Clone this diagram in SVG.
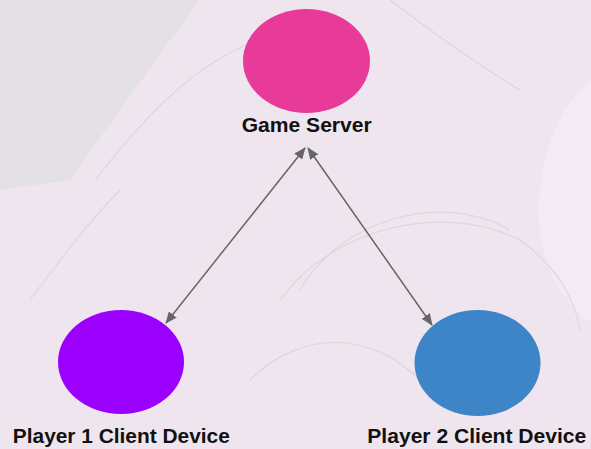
<svg xmlns="http://www.w3.org/2000/svg" width="591" height="449" viewBox="0 0 591 449">
  <defs>
    <style>
      .lbl { font-family: "Liberation Sans", Arial, sans-serif; font-weight: bold; font-size: 20px; fill: #111; text-anchor: middle; }
      .conn { stroke: #666; stroke-width: 1.5; fill: none; marker-start: url(#ah); marker-end: url(#ah); }
      .sk { fill: none; stroke: #dcd6de; stroke-width: 1.2; }
    </style>
    <marker id="ah" markerUnits="userSpaceOnUse" markerWidth="12" markerHeight="10" refX="11" refY="5" orient="auto-start-reverse" viewBox="0 0 12 10">
      <path d="M0,0 L12,5 L0,10 Z" fill="#666"/>
    </marker>
  </defs>
  <g id="background">
    <rect x="0" y="0" width="591" height="449" fill="#efe5ef"/>
    <path d="M0,0 L200,0 C170,40 120,110 70,180 L0,190 Z" fill="#e4e1e6"/>
    <path d="M591,80 C540,120 520,230 560,290 C575,310 585,320 591,322 Z" fill="#f3eaf5"/>
    <path class="sk" d="M95,180 C150,110 200,60 260,40"/>
    <path class="sk" d="M30,300 C60,260 90,220 120,190"/>
    <path class="sk" d="M280,300 C330,230 440,200 520,240 C560,270 575,300 580,330"/>
    <path class="sk" d="M300,290 C340,220 440,190 510,230"/>
    <path class="sk" d="M390,0 C430,30 470,60 520,90"/>
    <path class="sk" d="M250,380 C300,330 370,330 420,380"/>
  </g>
  <g id="connectors">
    <line class="conn" x1="166" y1="323" x2="305" y2="148"/>
    <line class="conn" x1="308" y1="148" x2="432" y2="325"/>
  </g>
  <g id="game-server">
    <ellipse cx="306.5" cy="61" rx="63.5" ry="52" fill="#e83a98"/>
    <text class="lbl" x="306.7" y="132" textLength="130" lengthAdjust="spacingAndGlyphs">Game Server</text>
  </g>
  <g id="player1">
    <ellipse cx="121" cy="362" rx="63" ry="52" fill="#9b00ff"/>
    <text class="lbl" x="121.3" y="443" textLength="217" lengthAdjust="spacingAndGlyphs">Player 1 Client Device</text>
  </g>
  <g id="player2">
    <ellipse cx="477.5" cy="363" rx="63" ry="53" fill="#3d85c6"/>
    <text class="lbl" x="476.8" y="443" textLength="219" lengthAdjust="spacingAndGlyphs">Player 2 Client Device</text>
  </g>
</svg>
